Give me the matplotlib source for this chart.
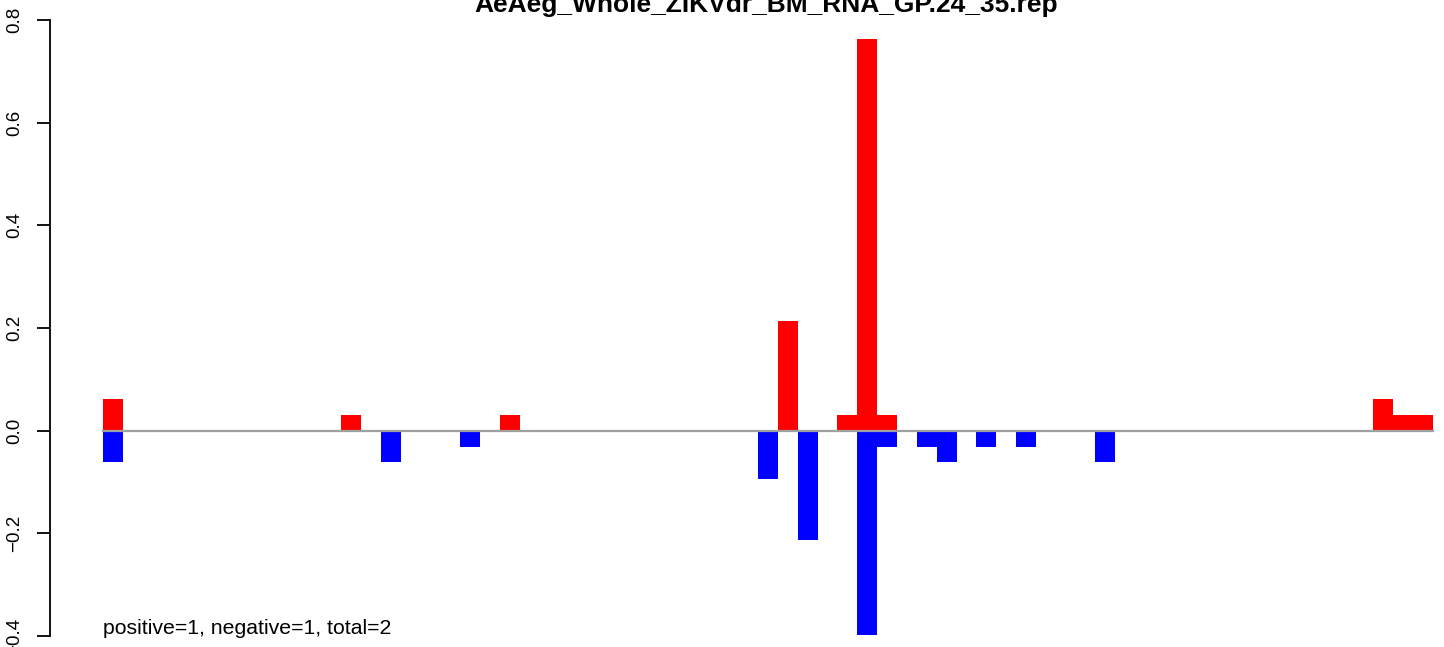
import matplotlib
matplotlib.use("Agg")
import matplotlib.pyplot as plt
import numpy as np

plt.rcParams['font.family'] = ['Liberation Sans', 'DejaVu Sans']

# Position-wise values, 67 positions (index = offset in window)
n_pos = 67
pos_index = [0, 12, 20, 34, 37, 38, 39, 64, 65, 66]
pos_values = [0.062, 0.031, 0.031, 0.213, 0.031, 0.763, 0.031, 0.062, 0.031, 0.031]
neg_index = [0, 14, 18, 33, 35, 38, 39, 41, 42, 44, 46, 50]
neg_values = [-0.062, -0.062, -0.031, -0.094, -0.213, -0.398, -0.031, -0.031, -0.062,
              -0.031, -0.031, -0.062]

title = "AeAeg_Whole_ZIKVdr_BM_RNA_GP.24_35.rep"
note = "positive=1, negative=1, total=2"
y_ticks = [-0.4, -0.2, 0.0, 0.2, 0.4, 0.6, 0.8]

W, H = 1444, 647
fig = plt.figure(figsize=(W / 100, H / 100), dpi=100)

# axes region in pixels (R-style plot region, extends past right edge)
left_px, right_px = 50, 1486
top_px, bottom_px = 20, 636
ax = fig.add_axes([left_px / W, 1 - bottom_px / H,
                   (right_px - left_px) / W, (bottom_px - top_px) / H])

pos = np.zeros(n_pos)
neg = np.zeros(n_pos)
pos[pos_index] = pos_values
neg[neg_index] = neg_values
x = np.arange(n_pos)

ax.bar(x, pos, width=1.0, align='edge', color='#ff0000', linewidth=0)
ax.bar(x, neg, width=1.0, align='edge', color='#0000ff', linewidth=0)
ax.plot([0, n_pos], [0, 0], color='#a0a0a0', linewidth=1.6, zorder=3)

pad = 0.04 * n_pos
ax.set_xlim(-pad, n_pos + pad)
ax.set_ylim(-0.4, 0.8)

for side in ['top', 'right', 'bottom']:
    ax.spines[side].set_visible(False)
ax.spines['left'].set_linewidth(1.3)
ax.set_xticks([])
ax.set_yticks(y_ticks)
ax.set_yticklabels([f"{v:.1f}".replace('-', '\u2212') for v in y_ticks])
ax.tick_params(axis='y', length=9.4, width=1.3, pad=10, labelsize=13.5)
for lab in ax.get_yticklabels():
    lab.set_rotation(90)
    lab.set_va('center')

ax.text(0, -0.397, note, fontsize=15.3, ha='left', va='baseline')

fig.text(766 / W, 1 - 12 / H, title, fontsize=19, fontweight='bold',
         ha='center', va='baseline')

fig.savefig("out.png", dpi=100)
